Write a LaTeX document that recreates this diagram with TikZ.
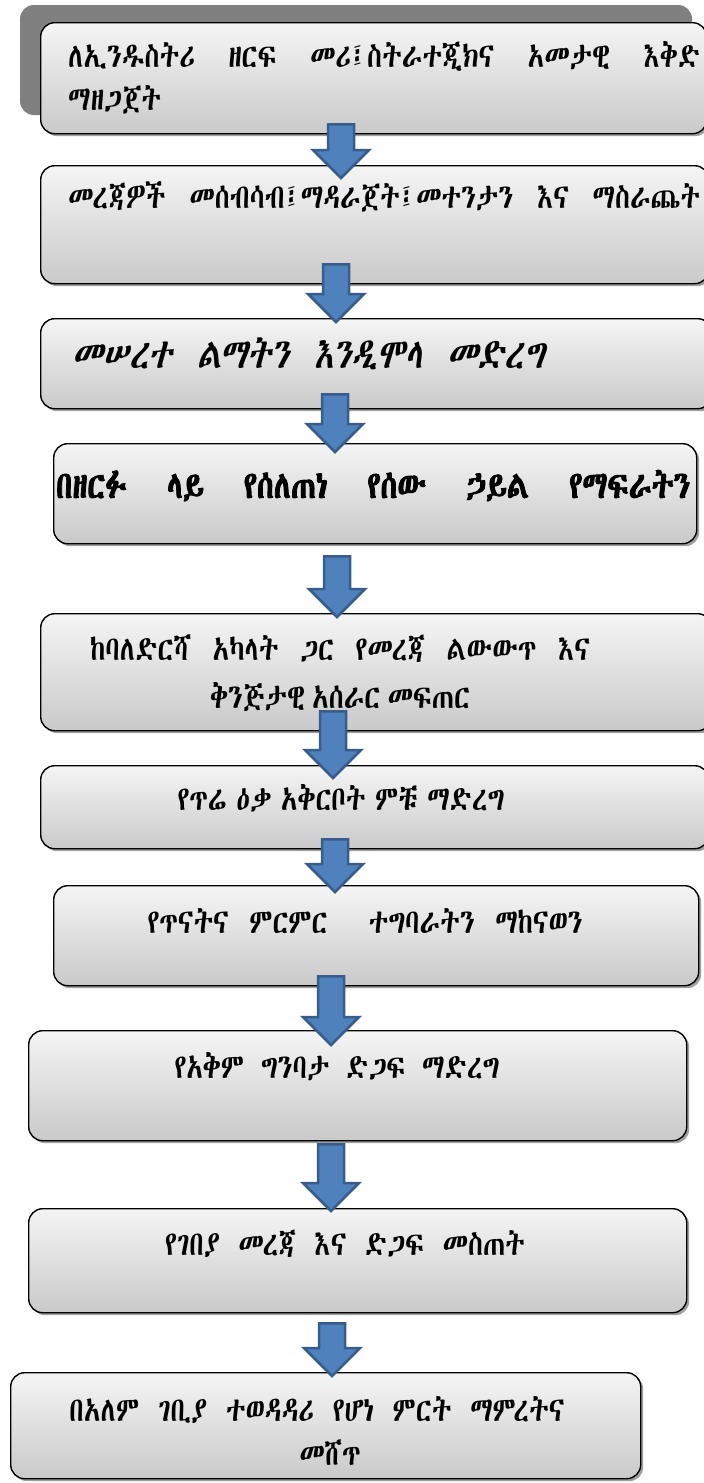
\documentclass[tikz,border=0pt]{standalone}
\usepackage{fontspec}
\usetikzlibrary{calc,shadows}
\def\ethname{DejaVu Sans}
\IfFontExistsTF{FreeSerif}{\def\ethname{FreeSerif}}{}
\IfFontExistsTF{Noto Sans Ethiopic}{\def\ethname{Noto Sans Ethiopic}}{}
\IfFontExistsTF{Abyssinica SIL}{\def\ethname{Abyssinica SIL}}{}
\newfontfamily\eth{\ethname}
\newfontfamily\ethit{\ethname}[FakeSlant=0.2]
\newfontfamily\ethbf{\ethname}[FakeBold=2.5]
\definecolor{arrowblue}{HTML}{4F81BD}
\definecolor{arrowedge}{HTML}{385D8A}
\definecolor{bigshadow}{HTML}{7F7F7F}
% horizontally condensed line, spaces stretched to the given width
\newcommand\fitline[2]{\scalebox{0.8}[1]{\spaceskip=0.3em plus 20em minus 0.2em\makebox[\dimexpr #1*5/4\relax][s]{#2}}}
\newcommand\cond[1]{\scalebox{0.8}[1]{#1}}
\newcommand\blockarrow[5]{%
  \path (#3,0) coordinate (ax);
  \path (ax |- #1.south) ++(0,#4) coordinate (#1-out);
  \path (ax |- #2.north) ++(0,#5) coordinate (#2-in);
  \draw[barrow] let \p1=(#1-out), \p2=(#2-in) in
   (\x1-13pt,\y1) -- (\x1+13pt,\y1) -- (\x1+13pt,\y2+28pt) -- (\x1+28pt,\y2+28pt)
   -- (\x2,\y2) -- (\x1-28pt,\y2+28pt) -- (\x1-13pt,\y2+28pt) -- cycle;
}
\begin{document}
\begin{tikzpicture}[x=1pt,y=-1pt,
  box/.style={draw=black, line width=1.4pt, rounded corners=14pt,
    top color=gray!8, bottom color=gray!42,
    drop shadow={shadow xshift=2.5pt, shadow yshift=-2.5pt, fill=gray!75, opacity=1},
    anchor=north west, inner sep=0pt},
  lbl/.style={inner sep=0pt, font=\eth\fontsize{34}{38}\selectfont},
  barrow/.style={fill=arrowblue, draw=arrowedge, line width=2.5pt, line join=miter}]
\useasboundingbox (0,0) rectangle (704,1483);
\fill[bigshadow, rounded corners=14pt] (20,5) rectangle (692,115);
\node[box, minimum width=666pt, minimum height=111pt] (b1) at (40,22) {};
\node[box, minimum width=668pt, minimum height=118pt] (b2) at (40,165) {};
\node[box, minimum width=671pt, minimum height=90pt] (b3) at (40,318) {};
\node[box, minimum width=643pt, minimum height=100pt] (b4) at (53,443) {};
\node[box, minimum width=671pt, minimum height=117pt] (b5) at (40,613) {};
\node[box, minimum width=668pt, minimum height=83pt] (b6) at (40,765) {};
\node[box, minimum width=645pt, minimum height=100pt] (b7) at (53,885) {};
\node[box, minimum width=658pt, minimum height=110pt] (b8) at (28,1030) {};
\node[box, minimum width=658pt, minimum height=104pt] (b9) at (28,1208) {};
\node[box, minimum width=630pt, minimum height=106pt] (b10) at (10,1372) {};

\node[lbl, anchor=base west] (t1a) at (68,67) {\fitline{632pt}{ለኢንዱስትሪ ዘርፍ መሪ፤ስትራተጂክና አመታዊ እቅድ}};
\node[lbl, anchor=base west] (t1b) at (68,110) {\cond{ማዘጋጀት}};
\node[lbl, anchor=base west] (t2) at (68,208) {\fitline{632pt}{መረጃዎች መሰብሳብ፤ማዳራጀት፤መተንታን እና ማስራጨት}};
\node[lbl, anchor=base west, font=\ethit\fontsize{42}{46}\selectfont] (t3) at (72,368) {\fitline{473pt}{መሠረተ ልማትን እንዲሞላ መድረግ}};
\node[lbl, anchor=base west, font=\ethbf\fontsize{38}{42}\selectfont] (t4) at (56,498) {\fitline{634pt}{በዘርፉ ላይ የሰለጠነ የሰው ኃይል የማፍራትን}};
\node[lbl, anchor=base] (t5a) at (340,660) {\fitline{500pt}{ከባለድርሻ አካላት ጋር የመረጃ ልውውጥ እና}};
\node[lbl, anchor=base] (t5b) at (340,708) {\fitline{260pt}{ቅንጅታዊ አሰራር መፍጠር}};
\node[lbl, anchor=base] (t6) at (341,810) {\fitline{327pt}{የጥሬ ዕቃ አቅርቦት ምቹ ማድረግ}};
\node[lbl, anchor=base] (t7) at (365,933) {\fitline{435pt}{የጥናትና ምርምር \ ተግባራትን ማከናወን}};
\node[lbl, anchor=base] (t8) at (337,1078) {\fitline{325pt}{የአቅም ግንባታ ድጋፍ ማድረግ}};
\node[lbl, anchor=base] (t9) at (345,1255) {\fitline{360pt}{የገበያ መረጃ እና ድጋፍ መስጠት}};
\node[lbl, anchor=base] (t10a) at (317,1421) {\fitline{495pt}{በአለም ገቢያ ተወዳዳሪ የሆነ ምርት ማምረትና}};
\node[lbl, anchor=base] (t10b) at (330,1465) {\cond{መሸጥ}};

\blockarrow{b1}{b2}{341}{-10}{13}
\blockarrow{b2}{b3}{336}{-20}{4}
\blockarrow{b3}{b4}{335}{-15}{9}
\blockarrow{b4}{b5}{337}{12}{4}
\blockarrow{b5}{b6}{333}{-20}{13}
\blockarrow{b6}{b7}{335}{-10}{7}
\blockarrow{b7}{b8}{331}{-10}{15}
\blockarrow{b8}{b9}{331}{3}{3}
\blockarrow{b9}{b10}{332}{10}{4}
\end{tikzpicture}
\end{document}
